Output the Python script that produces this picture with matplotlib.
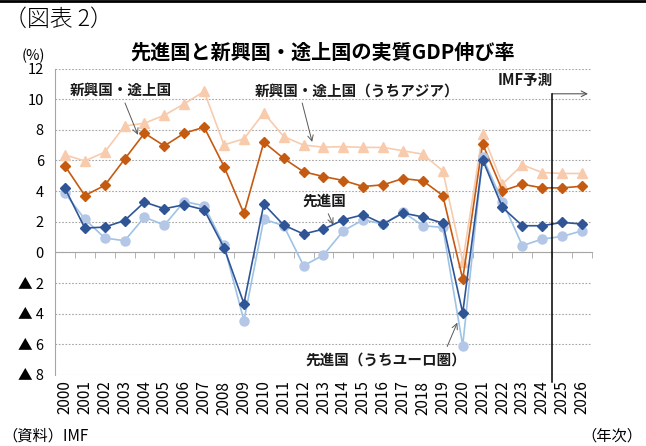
import numpy as np
import matplotlib
matplotlib.use("Agg")
import matplotlib.pyplot as plt
from matplotlib.lines import Line2D

plt.rcParams['font.family'] = ['Noto Sans CJK JP', 'DejaVu Sans']

# data
years = [str(y) for y in range(2000, 2027)]

emerging = [5.65, 3.71, 4.37, 6.08, 7.78, 6.95, 7.78, 8.17, 5.6, 2.54,
            7.19, 6.13, 5.26, 4.95, 4.69, 4.30, 4.41, 4.82, 4.67, 3.71,
            -1.74, 7.08, 4.02, 4.45, 4.21, 4.21, 4.32]
emerging_asia = [6.36, 5.97, 6.54, 8.25, 8.43, 8.95, 9.7, 10.5, 7.02, 7.41,
                 9.1, 7.56, 7.0, 6.87, 6.9, 6.85, 6.85, 6.63, 6.41, 5.32,
                 -0.6, 7.73, 4.47, 5.71, 5.21, 5.15, 5.15]
advanced = [4.19, 1.59, 1.65, 2.08, 3.28, 2.85, 3.11, 2.78, 0.3, -3.34,
            3.15, 1.78, 1.2, 1.52, 2.13, 2.46, 1.85, 2.57, 2.31, 1.91,
            -3.95, 6.05, 2.93, 1.74, 1.74, 1.96, 1.85]
euro_area = [3.87, 2.17, 0.94, 0.76, 2.3, 1.78, 3.32, 3.04, 0.46, -4.45,
             2.17, 1.74, -0.87, -0.17, 1.41, 2.13, 1.85, 2.63, 1.74, 1.63,
             -6.08, 6.2, 3.32, 0.44, 0.87, 1.04, 1.41]

yticks = [12, 10, 8, 6, 4, 2, 0, -2, -4, -6, -8]
ytick_labels = ['12', '10', '8', '6', '4', '2', '0', '▲ 2', '▲ 4', '▲ 6', '▲ 8']

x = np.arange(len(years))

fig = plt.figure(figsize=(6.46, 4.46), dpi=100)
ax = fig.add_axes([0.0851, 0.1592, 0.8313, 0.6872])

ax.plot(x, emerging_asia, color='#F8CBAD', lw=1.2, marker='^', ms=7, zorder=3)
ax.plot(x, emerging, color='#C55A11', lw=1.2, marker='D', ms=5, zorder=4)
ax.plot(x, euro_area, color='#9DC3E6', lw=1.2, marker='o', ms=6.5,
        mfc='#B4C7E7', mec='#B4C7E7', zorder=5)
ax.plot(x, advanced, color='#2F5597', lw=1.2, marker='D', ms=5, zorder=6)

ax.set_xlim(-0.5, len(years) - 0.5)
ax.set_ylim(-8, 12)
ax.set_yticks(yticks)
ax.set_yticklabels(ytick_labels, fontsize=10.5)
ax.tick_params(axis='y', length=0, pad=8)
ax.grid(axis='y', color='#A6A6A6', ls=(0, (1.5, 1.5)), lw=0.8)

for s in ['top', 'right']:
    ax.spines[s].set_visible(False)
ax.spines['left'].set_color('#A6A6A6')
ax.spines['bottom'].set_position(('data', 0))
ax.spines['bottom'].set_color('#A6A6A6')
ax.set_xticks(x)
ax.set_xticklabels([])
ax.set_xticks(np.arange(-0.5, len(years)), minor=True)
ax.tick_params(axis='x', which='major', length=0)
ax.tick_params(axis='x', which='minor', length=4, color='#A6A6A6', direction='out')

sec = ax.secondary_xaxis(0)
sec.set_xticks(x)
sec.set_xticklabels(years, rotation=90, fontsize=11)
sec.tick_params(length=0, pad=4)
sec.spines['bottom'].set_visible(False)

# labels with leader lines
lab = dict(fontsize=10.5, fontweight='bold', color='#1a1a1a')
arr = dict(arrowstyle='->', color='#595959', lw=0.7, shrinkA=0, shrinkB=0)
ax.text(2.82, 10.6, '新興国・途上国', ha='center', va='center', **lab)
ax.annotate('', xy=(3.67, 7.67), xytext=(3.02, 9.75), arrowprops=arr)
ax.text(9.56, 10.47, '新興国・途上国（うちアジア）', ha='left', va='center', **lab)
ax.annotate('', xy=(12.43, 7.21), xytext=(11.93, 9.75), arrowprops=arr)
ax.text(11.93, 3.37, '先進国', ha='left', va='center', **lab)
ax.annotate('', xy=(13.49, 1.8), xytext=(13.24, 2.52), arrowprops=arr)
ax.text(12.08, -6.99, '先進国（うちユーロ圏）', ha='left', va='center', **lab)
ax.annotate('', xy=(19.73, -4.58), xytext=(19.22, -6.14), arrowprops=arr)

# forecast marker
ax.text(21.74, 11.25, 'IMF予測', ha='left', va='center', **lab)
ax.plot([24.5, 24.5], [10.35, -8.45], color='black', lw=1.1, clip_on=False, zorder=7)
ax.annotate('', xy=(26.3, 10.35), xytext=(24.5, 10.35),
            arrowprops=dict(arrowstyle='->', color='#595959', lw=0.8,
                            shrinkA=0, shrinkB=0), annotation_clip=False)

fig.text(0.5, 0.883, '先進国と新興国・途上国の実質GDP伸び率', ha='center', va='center',
         fontsize=14.5, fontweight='bold')
fig.text(0.006, 0.957, '（図表 2）', ha='left', va='center', fontsize=16.5, fontweight='light')
fig.text(0.033, 0.875, '(%)', ha='left', va='center', fontsize=10.5)
fig.text(0.003, 0.022, '（資料）IMF', ha='left', va='center', fontsize=11)
fig.text(0.995, 0.022, '（年次）', ha='right', va='center', fontsize=11)
fig.add_artist(Line2D([0, 1], [0.998, 0.998], color='black', lw=2))

fig.savefig('out.png', dpi=100)
